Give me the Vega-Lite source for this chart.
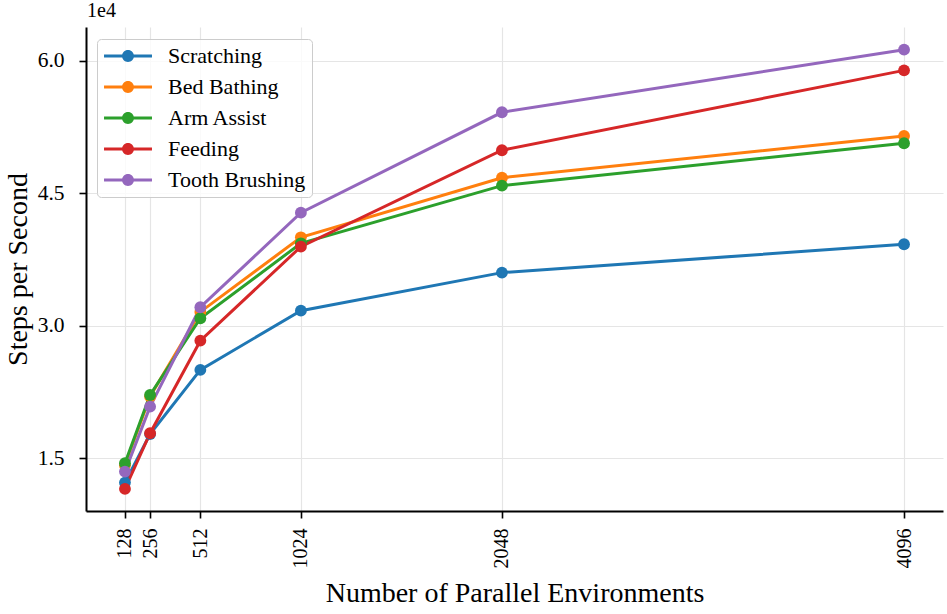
{
  "$schema": "https://vega.github.io/schema/vega-lite/v6.json",
  "width": 857,
  "height": 484,
  "autosize": {"type": "none"},
  "padding": {"left": 86, "top": 27, "right": 4, "bottom": 103},
  "background": "white",
  "title": {"text": "1e4", "anchor": "start", "frame": "group", "orient": "top", "offset": 6, "dx": 1, "fontSize": 20, "font": "Liberation Serif", "fontWeight": "normal", "color": "black"},
  "config": {
    "font": "Liberation Serif",
    "view": {"stroke": null},
    "axis": {
      "domainColor": "black", "domainWidth": 2, "tickColor": "black", "tickWidth": 1.6, "tickSize": 7,
      "labelFont": "Liberation Serif", "labelFontSize": 20, "labelColor": "black", "labelPadding": 10,
      "titleFont": "Liberation Serif", "titleFontSize": 28, "titleFontWeight": "normal", "titleColor": "black",
      "gridColor": "#e5e5e5", "gridWidth": 1.2
    },
    "legend": {"labelFont": "Liberation Serif"}
  },
  "data": {"values": [
    {"env": 128, "task": "Scratching", "sps": 12250},
    {"env": 256, "task": "Scratching", "sps": 17750},
    {"env": 512, "task": "Scratching", "sps": 25010},
    {"env": 1024, "task": "Scratching", "sps": 31720},
    {"env": 2048, "task": "Scratching", "sps": 36030},
    {"env": 4096, "task": "Scratching", "sps": 39240},
    {"env": 128, "task": "Bed Bathing", "sps": 14200},
    {"env": 256, "task": "Bed Bathing", "sps": 22000},
    {"env": 512, "task": "Bed Bathing", "sps": 31580},
    {"env": 1024, "task": "Bed Bathing", "sps": 40030},
    {"env": 2048, "task": "Bed Bathing", "sps": 46780},
    {"env": 4096, "task": "Bed Bathing", "sps": 51510},
    {"env": 128, "task": "Arm Assist", "sps": 14440},
    {"env": 256, "task": "Arm Assist", "sps": 22170},
    {"env": 512, "task": "Arm Assist", "sps": 30860},
    {"env": 1024, "task": "Arm Assist", "sps": 39350},
    {"env": 2048, "task": "Arm Assist", "sps": 45880},
    {"env": 4096, "task": "Arm Assist", "sps": 50680},
    {"env": 128, "task": "Feeding", "sps": 11530},
    {"env": 256, "task": "Feeding", "sps": 17840},
    {"env": 512, "task": "Feeding", "sps": 28320},
    {"env": 1024, "task": "Feeding", "sps": 38970},
    {"env": 2048, "task": "Feeding", "sps": 49890},
    {"env": 4096, "task": "Feeding", "sps": 58940},
    {"env": 128, "task": "Tooth Brushing", "sps": 13490},
    {"env": 256, "task": "Tooth Brushing", "sps": 20850},
    {"env": 512, "task": "Tooth Brushing", "sps": 32110},
    {"env": 1024, "task": "Tooth Brushing", "sps": 42820},
    {"env": 2048, "task": "Tooth Brushing", "sps": 54190},
    {"env": 4096, "task": "Tooth Brushing", "sps": 61280}
  ]},
  "encoding": {
    "x": {"field": "env", "type": "quantitative",
      "scale": {"domain": [-70.4, 4294.4], "nice": false, "zero": false},
      "axis": {"values": [128, 256, 512, 1024, 2048, 4096], "labelAngle": -90, "labelFont": "Liberation Serif", "labelFontSize": 20, "title": "Number of Parallel Environments", "titlePadding": 11, "grid": true, "format": "d", "labelFlush": false, "labelOverlap": false}},
    "y": {"field": "sps", "type": "quantitative",
      "scale": {"domain": [9030, 63850], "nice": false, "zero": false},
      "axis": {"values": [15000, 30000, 45000, 60000], "labelFont": "Liberation Serif", "labelFontSize": 21.5, "labelPadding": 15, "labelExpr": "format(datum.value / 10000, '.1f')", "title": "Steps per Second", "titlePadding": 5, "grid": true}},
    "color": {"field": "task", "type": "nominal",
      "scale": {"domain": ["Scratching", "Bed Bathing", "Arm Assist", "Feeding", "Tooth Brushing"], "range": ["#1f77b4", "#ff7f0e", "#2ca02c", "#d62728", "#9467bd"]},
      "legend": {"title": null, "orient": "none", "legendX": 11, "legendY": 12,
        "symbolType": "M-2.18,-0.136H-0.52V0.136H-2.18Z M0.52,-0.136H2.18V0.136H0.52Z M-0.545,0A0.545,0.545 0 1,1 0.545,0A0.545,0.545 0 1,1 -0.545,0Z",
        "symbolSize": 484, "symbolOffset": 14, "symbolStrokeWidth": 0, "symbolOpacity": 1,
        "labelFont": "Liberation Serif", "labelFontSize": 22, "labelColor": "black", "labelOffset": 29, "labelLimit": 300,
        "rowPadding": 9, "padding": 6, "strokeColor": "#cccccc", "fillColor": "rgba(255,255,255,0.8)", "cornerRadius": 4}}
  },
  "layer": [
    {"mark": {"type": "line", "strokeWidth": 3}},
    {"mark": {"type": "point", "filled": true, "size": 140, "opacity": 1}}
  ]
}
